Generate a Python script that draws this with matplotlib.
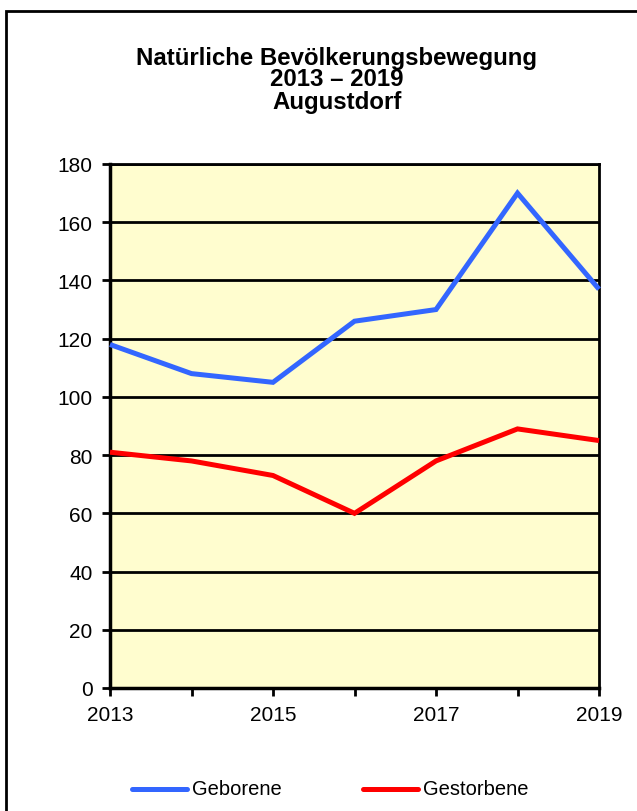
import matplotlib
matplotlib.use("Agg")
import matplotlib.pyplot as plt
from matplotlib.lines import Line2D
from matplotlib.patches import Rectangle

plt.rcParams['font.family'] = ['Liberation Sans', 'DejaVu Sans']

years = [2013, 2014, 2015, 2016, 2017, 2018, 2019]
geborene = [118, 108, 105, 126, 130, 170, 137]
gestorbene = [81, 78, 73, 60, 78, 89, 85]
year_labels = ['2013', '', '2015', '', '2017', '', '2019']
y_ticks = [0, 20, 40, 60, 80, 100, 120, 140, 160, 180]
title_lines = ['Natürliche Bevölkerungsbewegung', '2013 – 2019', 'Augustdorf']
series_names = ['Geborene', 'Gestorbene']
series_colors = ['#3366FF', '#FF0000']

W, H = 637, 812
fig = plt.figure(figsize=(W / 100, H / 100), dpi=100)
fig.patch.set_facecolor('white')

# outer frame (top and left edges visible, continues past the canvas)
fig.patches.append(Rectangle((6.5 / W, -0.05), 1.2, 1 - 11.5 / H + 0.05,
                             transform=fig.transFigure, fill=False,
                             edgecolor='black', linewidth=2.0, zorder=0))

ax = fig.add_axes([110 / W, 1 - 689 / H, (599 - 110) / W, (689 - 165) / H])
ax.set_facecolor('#FFFDCF')

for vals, col in zip([geborene, gestorbene], series_colors):
    ax.plot(years, vals, color=col, linewidth=3.6, solid_capstyle='butt',
            solid_joinstyle='miter', zorder=3, clip_on=False)

ax.set_xlim(years[0], years[-1])
ax.set_ylim(0, 180)
ax.set_xticks(years)
ax.set_xticklabels(year_labels)
ax.set_yticks(y_ticks)
ax.tick_params(axis='both', labelsize=15, width=2, length=5.5, color='black')
ax.tick_params(axis='y', pad=7)
ax.tick_params(axis='x', pad=6.5)

ax.yaxis.grid(True, color='black', linewidth=2.0)
ax.set_axisbelow(True)
for side in ['left', 'bottom']:
    ax.spines[side].set_linewidth(2.5)
for side in ['right', 'top']:
    ax.spines[side].set_linewidth(2.0)

for i, line in enumerate(title_lines):
    fig.text(337 / W, 1 - (64.5 + i * 22.0) / H, line, ha='center', va='baseline',
             fontsize=17.3, fontweight='bold')

# legend keys and labels below the plot
legend_y = 1 - 790 / H
for name, col, x0 in zip(series_names, series_colors, [132, 363]):
    fig.add_artist(Line2D([x0 / W, (x0 + 55) / W], [legend_y, legend_y],
                          transform=fig.transFigure, color=col, linewidth=3.6,
                          solid_capstyle='round'))
    fig.text((x0 + 60) / W, legend_y, name, ha='left', va='center', fontsize=14.5)

fig.savefig('out.png', dpi=100)
